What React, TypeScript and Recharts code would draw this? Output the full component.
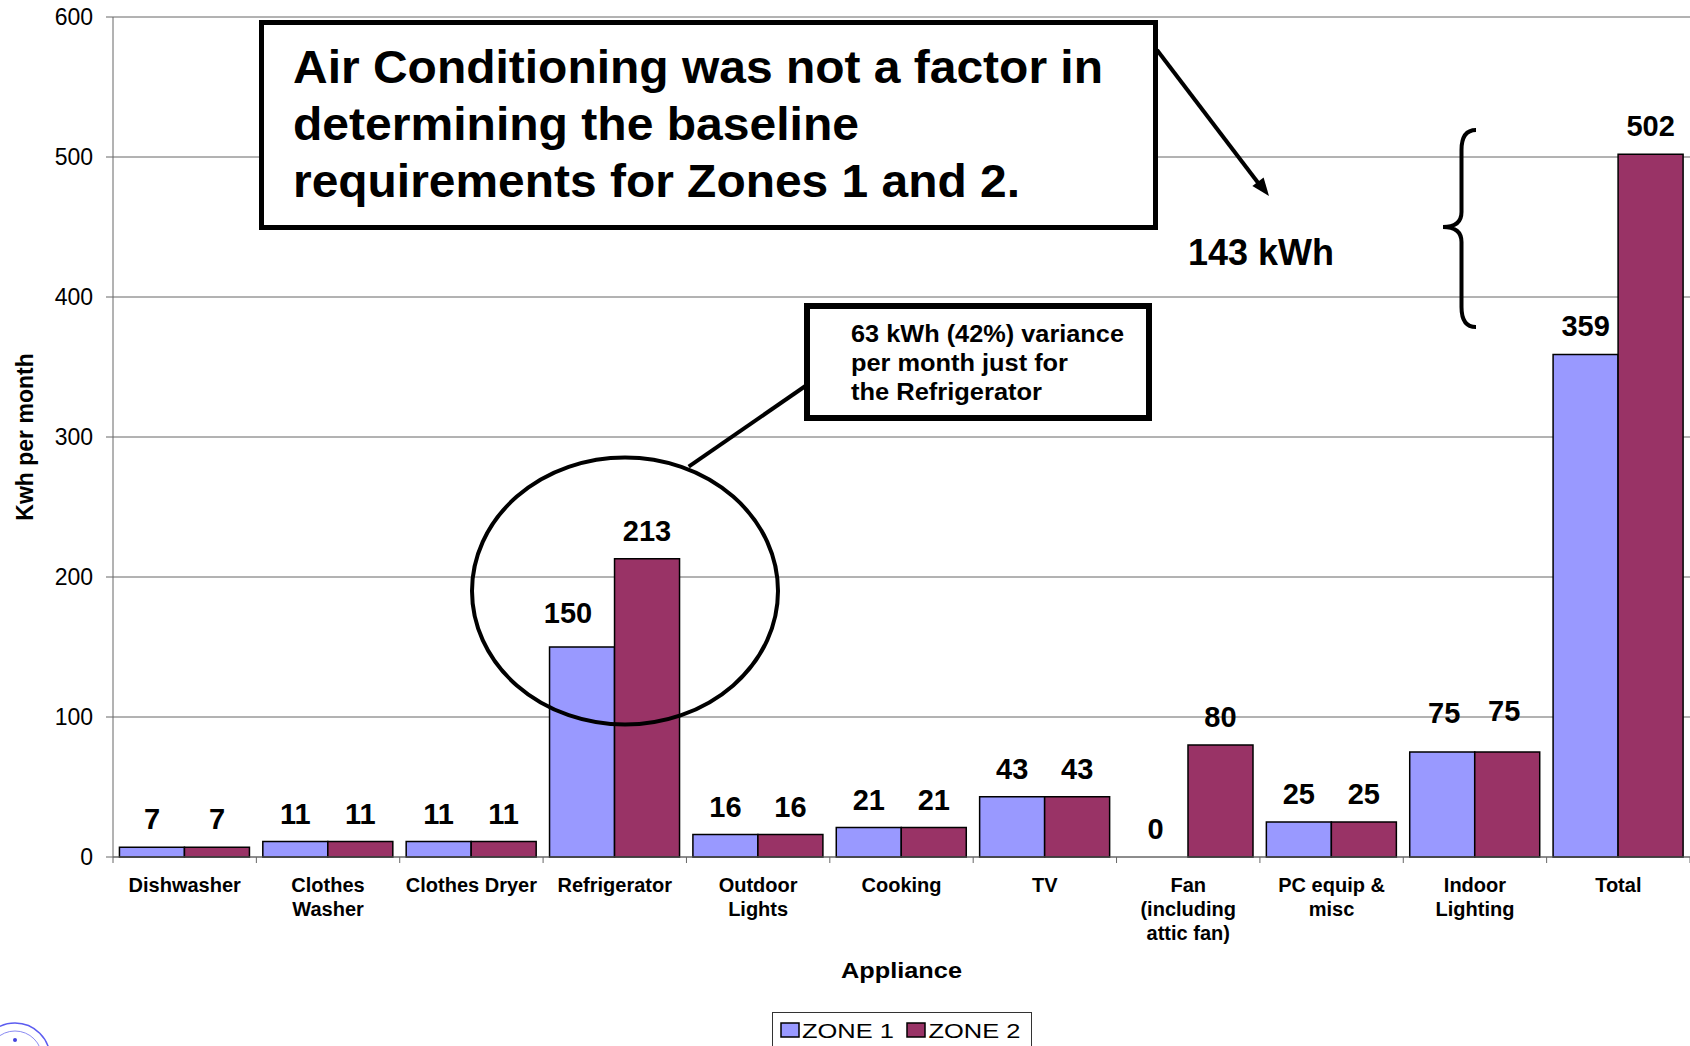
import React from "react";
import {
  BarChart, Bar, XAxis, YAxis, CartesianGrid, LabelList, Label,
} from "recharts";

const FONT = "'Liberation Sans', Arial, Helvetica, sans-serif";

const categories = [
  "Dishwasher", "Clothes Washer", "Clothes Dryer", "Refrigerator", "Outdoor Lights",
  "Cooking", "TV", "Fan (including attic fan)", "PC equip & misc", "Indoor Lighting", "Total",
];
const tickLines = [
  ["Dishwasher"], ["Clothes", "Washer"], ["Clothes Dryer"], ["Refrigerator"], ["Outdoor", "Lights"],
  ["Cooking"], ["TV"], ["Fan", "(including", "attic fan)"], ["PC equip &", "misc"], ["Indoor", "Lighting"], ["Total"],
];
const zone1 = [7, 11, 11, 150, 16, 21, 43, 0, 25, 75, 359];
const zone2 = [7, 11, 11, 213, 16, 21, 43, 80, 25, 75, 502];
const yTicks = [0, 100, 200, 300, 400, 500, 600];

const data = categories.map((name, i) => ({ name, zone1: zone1[i], zone2: zone2[i] }));

// layout
const W = 1690;
const H = 1046;
const LEFT = 113;
const TOP = 17;
const BOTTOM = 857;
const BAND = (W - LEFT) / categories.length;

// a few value labels were dragged by hand in the original (key: series-category index)
const labelNudge: Record<string, [number, number]> = {
  "zone1-3": [-14, -6],
  "zone1-9": [2, -11],
  "zone2-9": [-3, -13],
};

function LabelText({ x, y, k, children }: any) {
  const [dx, dy] = labelNudge[k] || [0, 0];
  return (
    <text x={x + dx} y={y + dy} textAnchor="middle" fontSize={29} fontWeight="bold" fill="#000" fontFamily={FONT}>
      {children}
    </text>
  );
}

function valueLabel(key: string) {
  return (props: any) => {
    const x = Number(props.x);
    const w = Number(props.width);
    const idx = Math.floor((x + w / 2 - LEFT) / BAND);
    const out = [
      <LabelText key="v" x={x + w / 2} y={Number(props.y) - 18} k={`${key}-${idx}`}>{props.value}</LabelText>,
    ];
    // zero-height zone 1 bars get no label from recharts, so draw it from the neighbour
    if (key === "zone2" && zone1[idx] === 0) {
      out.push(
        <LabelText key="z" x={x - w / 2} y={BOTTOM - 18} k={`zone1-${idx}`}>{zone1[idx]}</LabelText>,
      );
    }
    return <g>{out}</g>;
  };
}

function ApplianceTick(props: any) {
  const { x, payload, index } = props;
  const lines = tickLines[index] || [payload.value];
  return (
    <g>
      <line x1={x - BAND / 2} x2={x - BAND / 2} y1={BOTTOM} y2={BOTTOM + 6} stroke="#666" />
      {index === categories.length - 1 && (
        <line x1={x + BAND / 2} x2={x + BAND / 2} y1={BOTTOM} y2={BOTTOM + 6} stroke="#666" />
      )}
      <text x={x} y={892} textAnchor="middle" fontSize={20} fontWeight="bold" fill="#000" fontFamily={FONT}>
        {lines.map((l: string, i: number) => (
          <tspan key={i} x={x} dy={i === 0 ? 0 : 24}>{l}</tspan>
        ))}
      </text>
    </g>
  );
}

function Annotations() {
  return (
    <svg width={W} height={H} style={{ position: "absolute", left: 0, top: 0, pointerEvents: "none" }} fontFamily={FONT}>
      {/* air conditioning note */}
      <rect x={261.5} y={22.5} width={894} height={205} fill="#fff" stroke="#000" strokeWidth={5} />
      <g fontSize={47} fontWeight="bold" fill="#000">
        <text x={293} y={83} textLength={810} lengthAdjust="spacingAndGlyphs">Air Conditioning was not a factor in</text>
        <text x={293} y={140} textLength={566} lengthAdjust="spacingAndGlyphs">determining the baseline</text>
        <text x={293} y={197} textLength={727} lengthAdjust="spacingAndGlyphs">requirements for Zones 1 and 2.</text>
      </g>
      <line x1={1157} y1={50} x2={1259} y2={184} stroke="#000" strokeWidth={4} />
      <polygon points="1269,196 1252.4,185.9 1263.6,177.5" fill="#000" />
      <text x={1188} y={265} fontSize={36} fontWeight="bold" fill="#000">143 kWh</text>
      <path
        d="M1476,130 Q1461.5,130 1461.5,150 L1461.5,212 Q1461.5,227 1443,227 Q1461.5,227 1461.5,242 L1461.5,307 Q1461.5,327 1476,327"
        fill="none" stroke="#000" strokeWidth={4}
      />

      {/* refrigerator callout */}
      <ellipse cx={625} cy={591} rx={153} ry={133.5} fill="none" stroke="#000" strokeWidth={4} />
      <line x1={688.7} y1={466.7} x2={817} y2={378} stroke="#000" strokeWidth={4} />
      <rect x={807} y={306} width={342} height={112} fill="#fff" stroke="#000" strokeWidth={6} />
      <g fontSize={23} fontWeight="bold" fill="#000">
        <text x={851} y={341.5} textLength={273} lengthAdjust="spacingAndGlyphs">63 kWh (42%) variance</text>
        <text x={851} y={371} textLength={217} lengthAdjust="spacingAndGlyphs">per month just for</text>
        <text x={851} y={400} textLength={191} lengthAdjust="spacingAndGlyphs">the Refrigerator</text>
      </g>

      {/* legend */}
      <rect x={772.5} y={1012.5} width={259} height={44} fill="#fff" stroke="#333" strokeWidth={1} />
      <rect x={781} y={1023} width={18} height={14} fill="#9999FF" stroke="#000" strokeWidth={1.5} />
      <text x={802} y={1038} fontSize={21} fill="#000" textLength={92} lengthAdjust="spacingAndGlyphs">ZONE 1</text>
      <rect x={907} y={1023} width={18} height={14} fill="#993366" stroke="#000" strokeWidth={1.5} />
      <text x={928.5} y={1038} fontSize={21} fill="#000" textLength={92} lengthAdjust="spacingAndGlyphs">ZONE 2</text>

      {/* seal in the corner */}
      <circle cx={15} cy={1058} r={35} fill="none" stroke="#5c5cf0" strokeWidth={1.5} />
      <circle cx={15} cy={1058} r={27} fill="none" stroke="#8a8af2" strokeWidth={1} />
      <circle cx={15} cy={1040} r={2} fill="#4444dd" />
    </svg>
  );
}

export default function App() {
  return (
    <div style={{ position: "absolute", left: 0, top: 0, width: W, height: H, background: "#fff", overflow: "hidden", fontFamily: FONT }}>
      <BarChart
        width={W}
        height={H}
        data={data}
        margin={{ top: TOP, right: 0, bottom: 0, left: 0 }}
        barCategoryGap="4.5%"
        barGap={0}
      >
        <CartesianGrid vertical={false} stroke="#666" />
        <XAxis
          dataKey="name"
          height={H - BOTTOM}
          interval={0}
          tickLine={false}
          axisLine={{ stroke: "#666" }}
          tick={<ApplianceTick />}
        >
          <Label
            content={() => (
              <text x={(LEFT + W) / 2} y={978} textAnchor="middle" fontSize={22} fontWeight="bold" fill="#000" fontFamily={FONT} textLength={121} lengthAdjust="spacingAndGlyphs">
                Appliance
              </text>
            )}
          />
        </XAxis>
        <YAxis
          width={LEFT}
          domain={[0, 600]}
          ticks={yTicks}
          interval={0}
          tickSize={7}
          tickMargin={13}
          axisLine={{ stroke: "#666" }}
          tickLine={{ stroke: "#666" }}
          tick={{ fontSize: 23, fill: "#000", fontFamily: FONT }}
        >
          <Label
            content={() => (
              <text x={33} y={437} transform="rotate(-90 33 437)" textAnchor="middle" fontSize={23} fontWeight="bold" fill="#000" fontFamily={FONT}>
                Kwh per month
              </text>
            )}
          />
        </YAxis>
        <Bar dataKey="zone1" name="ZONE 1" fill="#9999FF" stroke="#000" strokeWidth={1.5} isAnimationActive={false}>
          <LabelList dataKey="zone1" content={valueLabel("zone1")} />
        </Bar>
        <Bar dataKey="zone2" name="ZONE 2" fill="#993366" stroke="#000" strokeWidth={1.5} isAnimationActive={false}>
          <LabelList dataKey="zone2" content={valueLabel("zone2")} />
        </Bar>
      </BarChart>
      <Annotations />
    </div>
  );
}
